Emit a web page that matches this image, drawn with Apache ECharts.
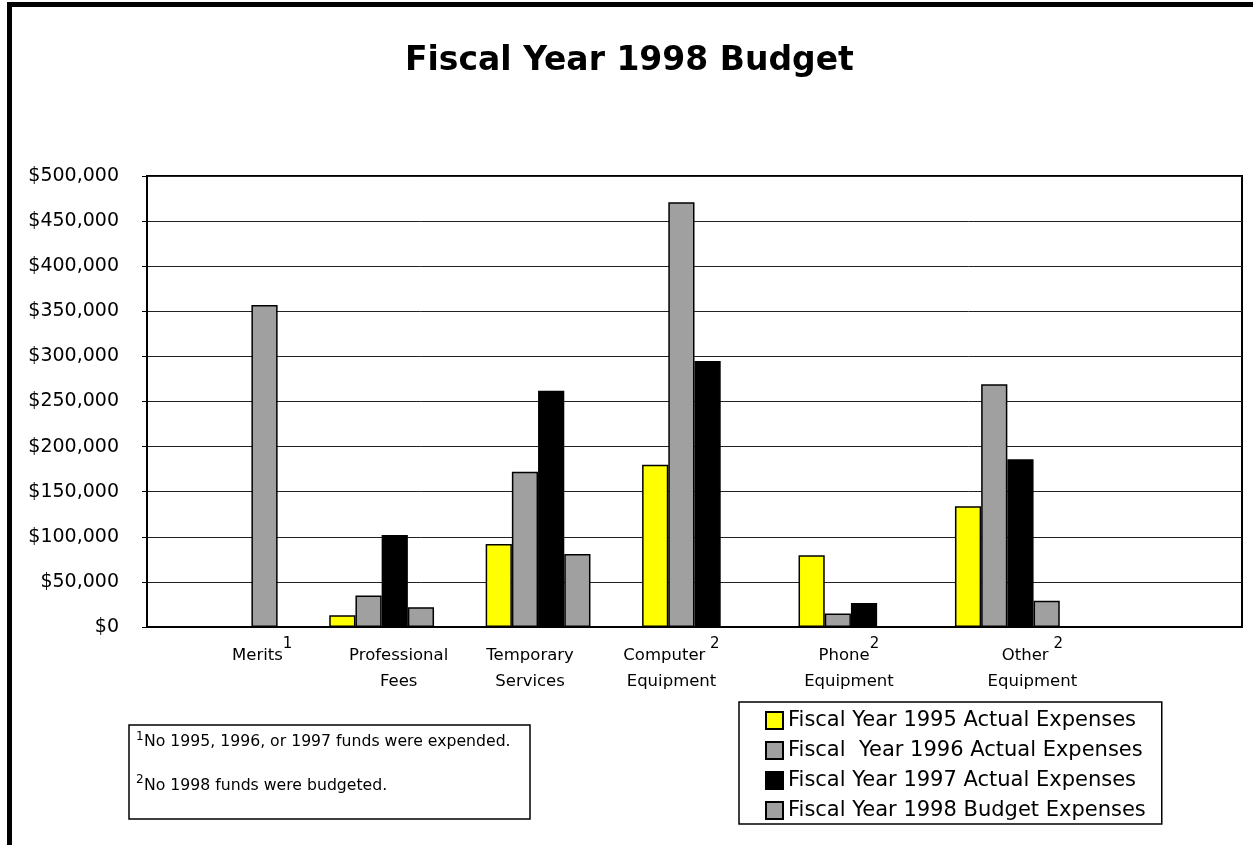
<!DOCTYPE html>
<html>
<head>
<meta charset="utf-8">
<script src="https://cdn.jsdelivr.net/npm/echarts@6/dist/echarts.min.js"></script>
<style>
html,body{margin:0;padding:0;background:#fff;}
#chart{width:1253px;height:845px;}
</style>
</head>
<body>
<div id="chart"></div>
<script>
// ---- data ----
const categories = ['Merits', 'Professional\nFees', 'Temporary\nServices', 'Computer\nEquipment', 'Phone\nEquipment', 'Other\nEquipment', ''];
const footMarks = ['1', '', '', ' 2', '2', ' 2', ''];
const seriesNames = ['Fiscal Year 1995 Actual Expenses', 'Fiscal  Year 1996 Actual Expenses', 'Fiscal Year 1997 Actual Expenses', 'Fiscal Year 1998 Budget Expenses'];
const fy1995 = [null, 13000, 92000, 180000, 79500, 134000, null];
const fy1996 = [null, 35000, 172000, 471000, 15000, 269000, null];
const fy1997 = [null, 102000, 262000, 295000, 26500, 186000, null];
const fy1998 = [357000, 22000, 81000, null, null, 29000, null];
const yTicks = { min: 0, max: 500000, step: 50000 };
const footnotes = ['No 1995, 1996, or 1997 funds were expended.', 'No 1998 funds were budgeted.'];
const titleText = 'Fiscal Year 1998 Budget';

// ---- layout / style ----
const labelNudge = [37, 17, -8, -23, -2, 25, 0];
const colors = ['#FFFF00', '#A0A0A0', '#000000', '#A0A0A0'];
const FONT = 'DejaVu Sans';

const rich = {
  sup: { fontFamily: FONT, fontSize: 15, lineHeight: 15, verticalAlign: 'top', color: '#000' },
  a: { fontFamily: FONT, fontSize: 16.5, lineHeight: 38, color: '#000' },
  b: { fontFamily: FONT, fontSize: 16.5, lineHeight: 14, color: '#000' }
};
labelNudge.forEach((d, i) => {
  rich['l' + i] = { width: d > 0 ? 2 * d : 0, fontSize: 8, lineHeight: 1 };
  rich['r' + i] = { width: d < 0 ? -2 * d : 0, fontSize: 8, lineHeight: 1 };
});

const data = [fy1995, fy1996, fy1997, fy1998];
const series = data.map((d, i) => ({
  name: seriesNames[i],
  type: 'bar',
  data: d,
  barGap: '0%',
  barCategoryGap: '33%',
  itemStyle: { color: colors[i], borderColor: '#000', borderWidth: 1.5 }
}));

function catLabel(value, index) {
  if (!value) return '';
  const d = labelNudge[index] || 0;
  const L = d > 0 ? '{l' + index + '| }' : '';
  const R = d < 0 ? '{r' + index + '| }' : '';
  const lines = value.split('\n');
  let s = L + '{a|' + lines[0] + '}';
  if (footMarks[index]) s += '{sup|' + footMarks[index] + '}';
  s += R;
  if (lines[1]) s += '\n' + L + '{b|' + lines[1] + '}' + R;
  return s;
}

const chart = echarts.init(document.getElementById('chart'), null, { renderer: 'canvas' });
chart.setOption({
  animation: false,
  backgroundColor: '#fff',
  title: {
    text: titleText,
    left: 405, top: 45, padding: 0,
    textStyle: { fontFamily: FONT, fontWeight: 'bold', fontSize: 33, color: '#000' }
  },
  grid: {
    left: 147, right: 11, top: 176, bottom: 218,
    show: true, borderColor: '#000', borderWidth: 2, backgroundColor: 'transparent',
    containLabel: false
  },
  legend: {
    orient: 'vertical',
    left: 739, top: 702,
    padding: [8, 16, 3, 26],
    borderColor: '#000', borderWidth: 1.5,
    itemWidth: 17, itemHeight: 17, itemGap: 9,
    icon: 'rect',
    textStyle: { fontFamily: FONT, fontSize: 21, color: '#000' },
    data: seriesNames
  },
  xAxis: {
    type: 'category',
    data: categories,
    axisLine: { show: true, lineStyle: { color: '#000', width: 2 } },
    axisTick: { show: false },
    axisLabel: {
      interval: 0,
      margin: 10,
      formatter: catLabel,
      rich: rich
    },
    splitLine: { show: false }
  },
  yAxis: {
    type: 'value',
    min: yTicks.min, max: yTicks.max, interval: yTicks.step,
    axisLine: { show: true, lineStyle: { color: '#000', width: 2 } },
    axisTick: { show: true, inside: false, length: 5, lineStyle: { color: '#000', width: 1 } },
    axisLabel: {
      margin: 28,
      padding: [0, 0, 7, 0],
      fontFamily: FONT, fontSize: 19, color: '#000',
      formatter: v => '$' + v.toLocaleString('en-US')
    },
    splitLine: { show: true, lineStyle: { color: '#222', width: 1 } }
  },
  graphic: [
    { type: 'rect', shape: { x: 9.5, y: 4.5, width: 3000, height: 3000 }, style: { fill: 'none', stroke: '#000', lineWidth: 5 }, silent: true },
    { type: 'rect', shape: { x: 129, y: 725, width: 401, height: 94 }, style: { fill: '#fff', stroke: '#000', lineWidth: 1.5 }, silent: true },
    { type: 'text', x: 136, y: 737, style: { text: '1', fontFamily: FONT, fontSize: 12, fill: '#000', verticalAlign: 'middle' } },
    { type: 'text', x: 144, y: 742, style: { text: footnotes[0], fontFamily: FONT, fontSize: 15.7, fill: '#000', verticalAlign: 'middle' } },
    { type: 'text', x: 136, y: 780, style: { text: '2', fontFamily: FONT, fontSize: 12, fill: '#000', verticalAlign: 'middle' } },
    { type: 'text', x: 144, y: 786, style: { text: footnotes[1], fontFamily: FONT, fontSize: 15.7, fill: '#000', verticalAlign: 'middle' } }
  ],
  series: series
});
</script>
</body>
</html>
